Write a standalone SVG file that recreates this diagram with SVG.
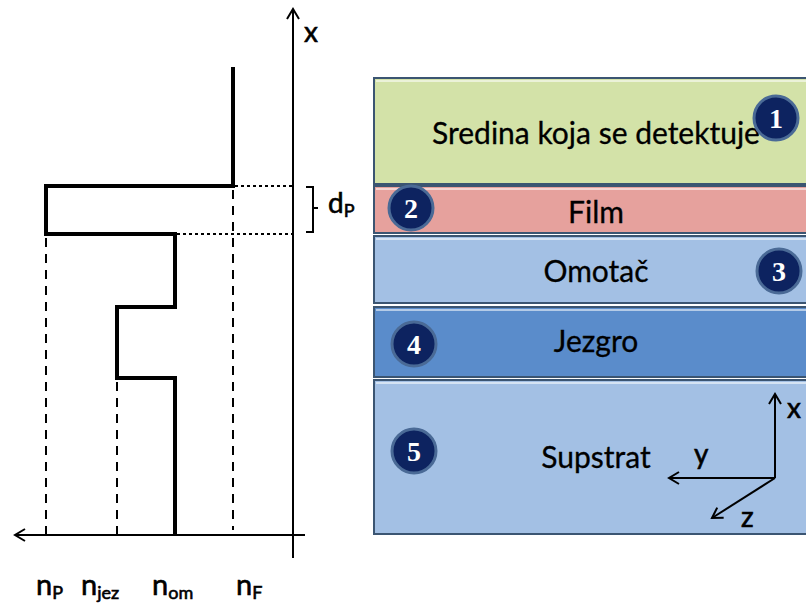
<svg xmlns="http://www.w3.org/2000/svg" width="806" height="608" viewBox="0 0 806 608">
<defs>
<style>
.t{font-family:Lato,"Open Sans","Liberation Sans",sans-serif;fill:#000}
.hv{stroke:#000;stroke-width:0.6}
.lbl{font-size:30px;text-anchor:middle;stroke:#000;stroke-width:0.3}
.num{font-family:"Liberation Serif",serif;font-weight:bold;font-size:28px;fill:#fff;text-anchor:middle}
.badge{fill:#0d2360;stroke:#4a6a96;stroke-width:3}
.layer{stroke:#3b5572;stroke-width:2}
.hi{stroke:#ffffff;stroke-opacity:0.55;stroke-width:2}
.prof{fill:none;stroke:#000;stroke-width:4;stroke-linejoin:miter}
.dash{stroke:#000;stroke-width:2;stroke-dasharray:9,7}
.dot{stroke:#000;stroke-width:2;stroke-dasharray:3,3}
.ax{stroke:#000;stroke-width:2;fill:none}
</style>
<marker id="arr" markerWidth="14" markerHeight="14" refX="11" refY="7" orient="auto" markerUnits="userSpaceOnUse">
<path d="M1,1 L11,7 L1,13" fill="none" stroke="#000" stroke-width="2"/>
</marker>
</defs>
<rect width="806" height="608" fill="#fff"/>

<g id="layers">
<g id="layer1">
<rect class="layer" x="374" y="78" width="440" height="106" fill="#d3e2a8"/>
<line class="hi" x1="376" y1="81" x2="806" y2="81"/>
<text class="t lbl" x="596" y="144">Sredina koja se detektuje</text>
</g>
<g id="layer2">
<rect class="layer" x="374" y="186" width="440" height="47" fill="#e6a19d"/>
<line class="hi" x1="376" y1="189" x2="806" y2="189"/>
<text class="t lbl" x="596" y="223">Film</text>
</g>
<g id="layer3">
<rect class="layer" x="374" y="236" width="440" height="67" fill="#a3c0e4"/>
<line class="hi" x1="376" y1="239" x2="806" y2="239"/>
<text class="t lbl" x="596" y="282">Omotač</text>
</g>
<g id="layer4">
<rect class="layer" x="374" y="307" width="440" height="70" fill="#5a8ccb"/>
<line class="hi" x1="376" y1="310" x2="806" y2="310"/>
<text class="t lbl" x="596" y="352">Jezgro</text>
</g>
<g id="layer5">
<rect class="layer" x="374" y="380" width="440" height="154" fill="#a3c0e4"/>
<line class="hi" x1="376" y1="383" x2="806" y2="383"/>
<text class="t lbl" x="596" y="468">Supstrat</text>
</g>
</g>

<g id="badges">
<g id="b1"><circle class="badge" cx="776" cy="118" r="22"/><text class="num" x="776" y="128">1</text></g>
<g id="b2"><circle class="badge" cx="411" cy="208" r="22"/><text class="num" x="411" y="218">2</text></g>
<g id="b3"><circle class="badge" cx="779" cy="271" r="22"/><text class="num" x="779" y="281">3</text></g>
<g id="b4"><circle class="badge" cx="414" cy="344" r="22"/><text class="num" x="414" y="354">4</text></g>
<g id="b5"><circle class="badge" cx="414" cy="451" r="22"/><text class="num" x="414" y="461">5</text></g>
</g>

<g id="coords">
<line class="ax" x1="775" y1="478" x2="775" y2="394" marker-end="url(#arr)"/>
<line class="ax" x1="775" y1="478" x2="669" y2="478" marker-end="url(#arr)"/>
<line class="ax" x1="775" y1="478" x2="712" y2="518" marker-end="url(#arr)"/>
<text class="t hv" x="787" y="418" font-size="28">x</text>
<text class="t hv" x="694" y="464" font-size="28">y</text>
<text class="t hv" x="741" y="527" font-size="28">z</text>
</g>

<g id="graph">
<line class="ax" x1="293" y1="558" x2="293" y2="9" marker-end="url(#arr)"/>
<line class="ax" x1="305" y1="535" x2="15" y2="535" marker-end="url(#arr)"/>
<text class="t hv" x="304" y="42" font-size="28">x</text>
<line class="dash" x1="46" y1="238" x2="46" y2="535"/>
<line class="dash" x1="117" y1="382" x2="117" y2="535"/>
<line class="dash" x1="233" y1="190" x2="233" y2="530"/>
<line class="dot" x1="235" y1="186" x2="293" y2="186"/>
<line class="dot" x1="177" y1="234" x2="293" y2="234"/>
<path class="prof" d="M233,67 V186 H46 V234 H175 V307 H117 V378 H175 V535"/>
<path class="ax" d="M306,187 H313 V208 H318 M313,208 V232 H306"/>
<text class="t hv" x="328" y="213" font-size="28">d<tspan font-size="18" dy="4">P</tspan></text>
<text class="t hv" x="36" y="595" font-size="29">n<tspan font-size="18" dy="4">P</tspan></text>
<text class="t hv" x="81" y="595" font-size="29">n<tspan font-size="18" dy="4">jez</tspan></text>
<text class="t hv" x="152" y="595" font-size="29">n<tspan font-size="18" dy="4">om</tspan></text>
<text class="t hv" x="236" y="595" font-size="29">n<tspan font-size="18" dy="4">F</tspan></text>
</g>
</svg>
